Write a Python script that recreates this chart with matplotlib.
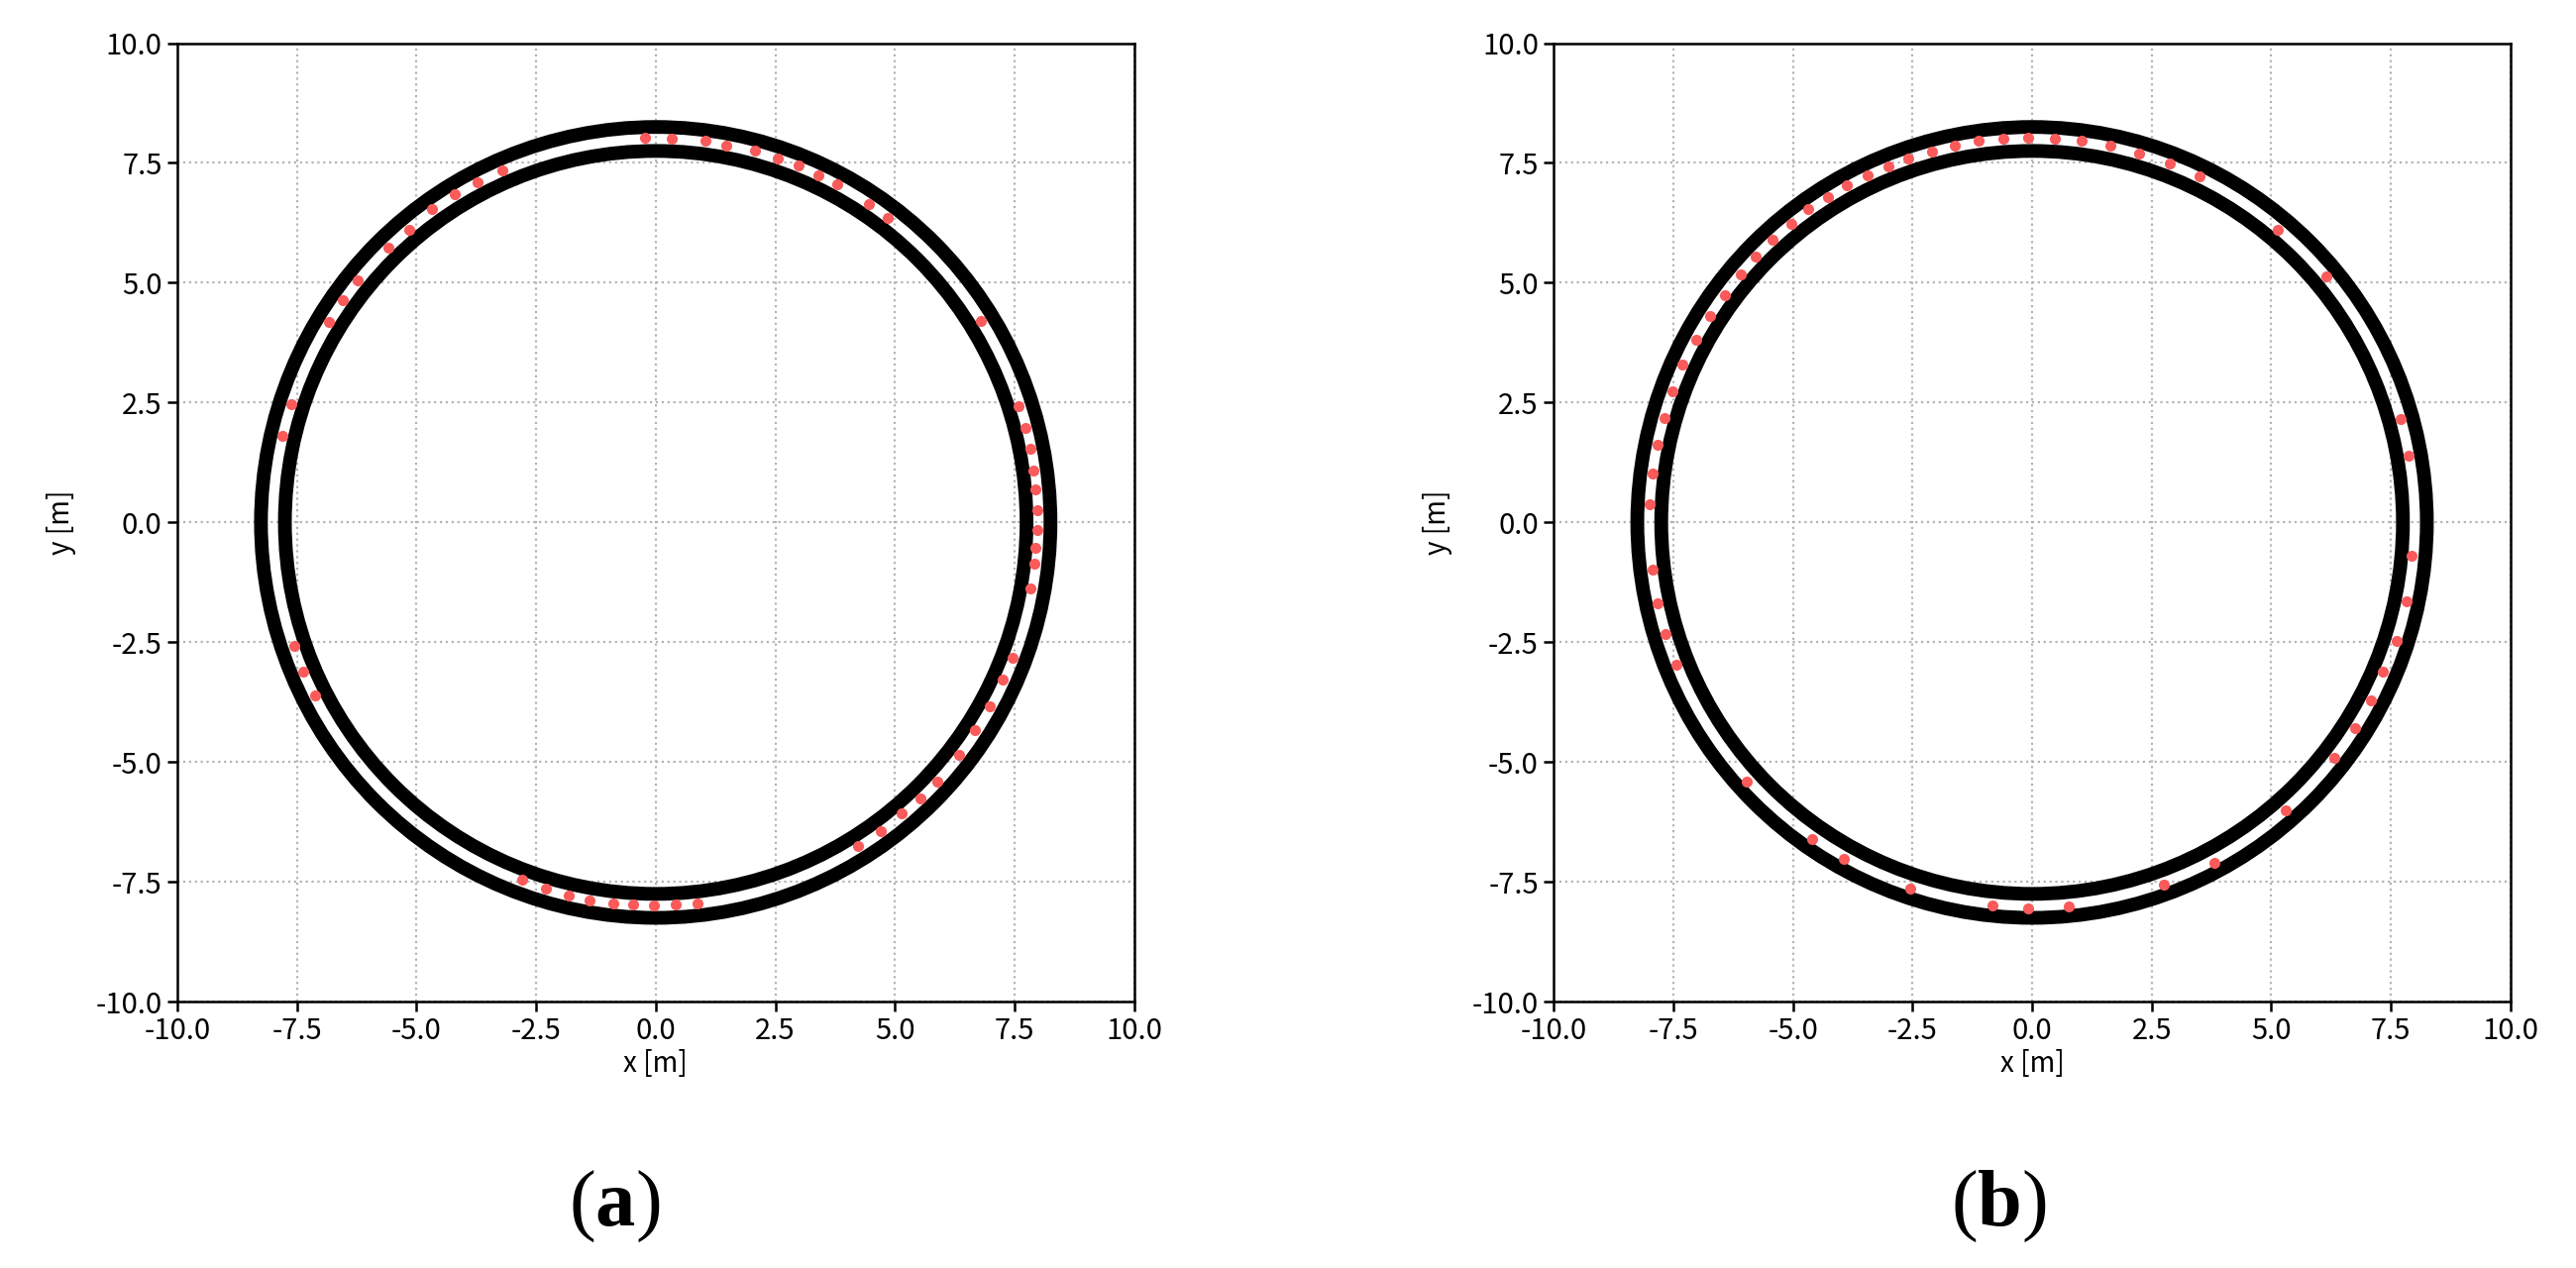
import numpy as np
import matplotlib
matplotlib.use("Agg")
import matplotlib.pyplot as plt
from matplotlib.patches import Circle

plt.rcParams['font.family'] = ['Noto Sans CJK SC', 'DejaVu Sans']
plt.rcParams['axes.unicode_minus'] = False
plt.rcParams['mathtext.fontset'] = 'custom'
plt.rcParams['mathtext.rm'] = 'Liberation Serif'
plt.rcParams['mathtext.bf'] = 'Liberation Serif:bold'

# track boundaries (inner / outer radius, m)
track_radii = [7.75, 8.25]

# red waypoints, panel (a)
xa = [-0.22, 0.33, 1.03, 1.48, 2.07, 2.56, 2.98, 3.40, 3.79, 4.46, 4.84,
      -3.21, -3.72, -4.19, -4.67, -5.16, -5.58, -6.22, -6.54, -6.82,
      -7.61, -7.80, 6.79,
      7.59, 7.73, 7.83, 7.89, 7.94, 7.97, 7.97, 7.94, 7.92, 7.84,
      7.46, 7.26, 6.98, 6.67, 6.33, 5.89, 5.53, 5.14, 4.70, 4.23,
      -7.56, -7.36, -7.11,
      -2.80, -2.30, -1.82, -1.38, -0.88, -0.47, -0.04, 0.42, 0.87]
ya = [8.03, 8.01, 7.96, 7.87, 7.75, 7.60, 7.44, 7.25, 7.06, 6.65, 6.36,
      7.35, 7.09, 6.84, 6.54, 6.11, 5.74, 5.05, 4.63, 4.18,
      2.46, 1.81, 4.21,
      2.42, 1.98, 1.53, 1.08, 0.69, 0.25, -0.15, -0.54, -0.87, -1.37,
      -2.83, -3.27, -3.83, -4.34, -4.84, -5.40, -5.75, -6.07, -6.44, -6.76,
      -2.57, -3.11, -3.61,
      -7.46, -7.63, -7.78, -7.88, -7.94, -7.98, -7.99, -7.98, -7.94]

# red waypoints, panel (b)
xb = [-0.08, 0.48, 1.03, 1.64, 2.23, 2.87, 3.50,
      -0.61, -1.11, -1.61, -2.10, -2.58, -3.00, -3.44, -3.88, -4.27, -4.67,
      -5.04, -5.43, -5.77, -6.08, -6.41, -6.72, -7.02, -7.30, -7.52, -7.69,
      -7.83, -7.93, -7.99,
      -7.94, -7.82, -7.66, -7.44,
      -5.97, -4.60, -3.93, -2.54, -0.82, -0.08, 0.76,
      2.76, 3.81, 5.31, 6.31, 6.76, 7.09, 7.34, 7.61, 7.83, 7.94,
      5.14, 6.14, 7.70, 7.87]
yb = [8.03, 8.00, 7.96, 7.87, 7.70, 7.49, 7.23,
      8.00, 7.96, 7.87, 7.73, 7.59, 7.42, 7.25, 7.03, 6.78, 6.53,
      6.22, 5.89, 5.55, 5.18, 4.75, 4.30, 3.82, 3.30, 2.74, 2.17,
      1.62, 1.01, 0.38,
      -0.98, -1.68, -2.32, -2.96,
      -5.40, -6.60, -7.02, -7.65, -7.99, -8.06, -8.02,
      -7.55, -7.11, -6.01, -4.92, -4.30, -3.72, -3.11, -2.47, -1.65, -0.70,
      6.11, 5.14, 2.15, 1.40]

ticks = [-10.0, -7.5, -5.0, -2.5, 0.0, 2.5, 5.0, 7.5, 10.0]
panels = [('a', xa, ya), ('b', xb, yb)]

fig = plt.figure(figsize=(26, 12.8), dpi=100)
lefts = [0.0688, 0.6031]
label_x = [0.2385, 0.776]

for i, (name, px, py) in enumerate(panels):
    ax = fig.add_axes([lefts[i], 0.21, 0.3715, 0.756])
    for r in track_radii:
        ax.add_patch(Circle((0, 0), r, fill=False, edgecolor='black', lw=10, zorder=2))
    ax.plot(px, py, 'o', color='#fa5a5a', ms=8, mec='none', zorder=3)
    ax.set_xlim(-10, 10)
    ax.set_ylim(-10, 10)
    ax.set_xticks(ticks)
    ax.set_yticks(ticks)
    ax.set_xticklabels(['%.1f' % t for t in ticks])
    ax.set_yticklabels(['%.1f' % t for t in ticks])
    ax.tick_params(labelsize=21, length=7, width=1.8, pad=4)
    ax.grid(True, linestyle=':', color='#b4b4b4', lw=1.6)
    for s in ax.spines.values():
        s.set_linewidth(1.8)
    ax.set_xlabel('x [m]', fontsize=20, labelpad=2)
    ax.set_ylabel('y [m]', fontsize=20, labelpad=14)
    fig.text(label_x[i], 0.0508, r'$\mathrm{(}\mathbf{%s}\mathrm{)}$' % name,
             fontsize=58, ha='center', va='center')

fig.savefig('out.png', dpi=100, facecolor='white')
